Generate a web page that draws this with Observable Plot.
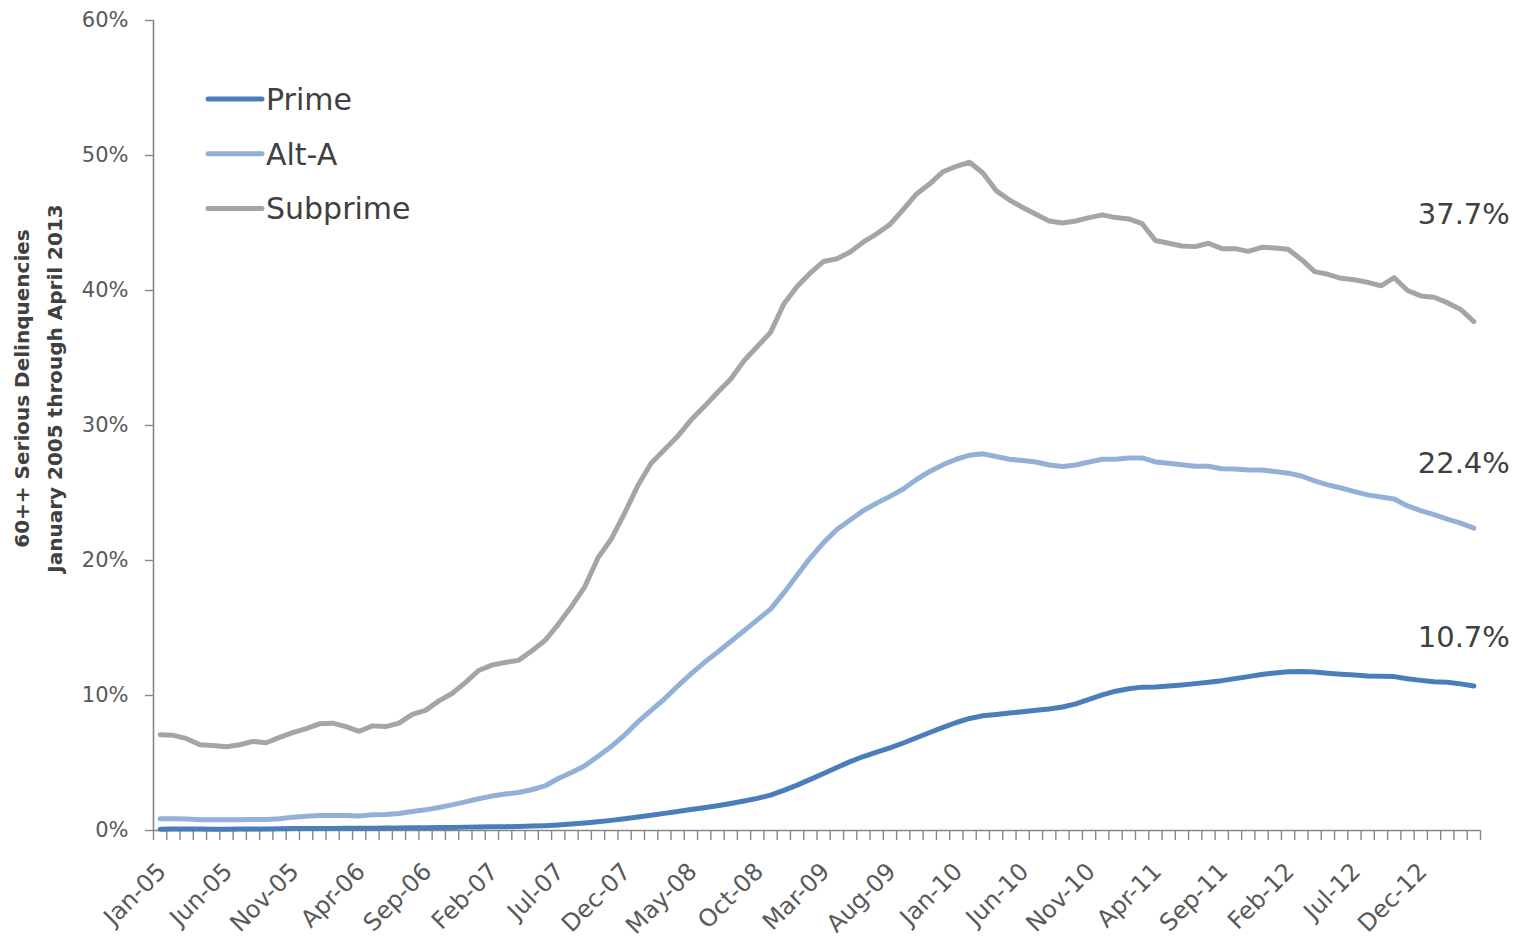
<!DOCTYPE html>
<html>
<head>
<meta charset="utf-8">
<script src="https://cdn.jsdelivr.net/npm/d3@7"></script>
<script src="https://cdn.jsdelivr.net/npm/@observablehq/plot@0.6"></script>
<style>
html, body { margin: 0; padding: 0; background: #ffffff; }
#chart { position: relative; width: 1518px; height: 938px; }
</style>
</head>
<body>
<div id="chart"></div>
<script>
// ---- Data (% of loans 60+ days delinquent) ----
const seriesNames = ["Prime", "Alt-A", "Subprime"];
const seriesColors = ["#4a7ebb", "#93b1d8", "#a5a5a5"];

// monthly, January 2005 .. April 2013 (100 months)
const prime = [
  0.10, 0.12, 0.12, 0.11, 0.10, 0.10, 0.11, 0.12, 0.12, 0.13,
  0.14, 0.14, 0.15, 0.15, 0.16, 0.16, 0.17, 0.18, 0.19, 0.20,
  0.21, 0.22, 0.23, 0.25, 0.26, 0.27, 0.28, 0.30, 0.33, 0.36,
  0.41, 0.48, 0.55, 0.64, 0.75, 0.87, 1.00, 1.13, 1.27, 1.41,
  1.55, 1.69, 1.84, 2.00, 2.18, 2.38, 2.62, 2.97, 3.36, 3.79,
  4.22, 4.67, 5.10, 5.48, 5.80, 6.12, 6.48, 6.87, 7.26, 7.64,
  8.00, 8.30, 8.50, 8.60, 8.70, 8.80, 8.90, 9.00, 9.15, 9.38,
  9.72, 10.05, 10.32, 10.50, 10.62, 10.63, 10.70, 10.78, 10.88, 10.98,
  11.10, 11.25, 11.40, 11.55, 11.67, 11.76, 11.78, 11.74, 11.65, 11.58,
  11.52, 11.45, 11.42, 11.40, 11.24, 11.12, 11.02, 10.98, 10.86, 10.70
];
const altA = [
  0.87, 0.87, 0.85, 0.80, 0.79, 0.79, 0.80, 0.82, 0.81, 0.87,
  0.99, 1.06, 1.11, 1.12, 1.11, 1.08, 1.16, 1.19, 1.26, 1.41,
  1.53, 1.70, 1.90, 2.12, 2.35, 2.55, 2.70, 2.82, 3.02, 3.30,
  3.85, 4.30, 4.80, 5.50, 6.23, 7.07, 8.04, 8.90, 9.74, 10.70,
  11.60, 12.44, 13.20, 14.00, 14.80, 15.60, 16.40, 17.60, 18.90, 20.20,
  21.33, 22.30, 23.00, 23.70, 24.25, 24.75, 25.30, 26.00, 26.60, 27.10,
  27.50, 27.80, 27.90, 27.70, 27.50, 27.40, 27.30, 27.07, 26.97, 27.07,
  27.30, 27.50, 27.50, 27.60, 27.60, 27.30, 27.20, 27.10, 26.98, 26.98,
  26.80, 26.77, 26.70, 26.70, 26.60, 26.47, 26.26, 25.90, 25.60, 25.37,
  25.10, 24.86, 24.70, 24.55, 24.04, 23.70, 23.40, 23.07, 22.77, 22.40
];
const subprime = [
  7.10, 7.05, 6.80, 6.35, 6.30, 6.20, 6.35, 6.60, 6.50, 6.90,
  7.25, 7.55, 7.90, 7.95, 7.70, 7.35, 7.75, 7.70, 7.95, 8.60,
  8.90, 9.60, 10.15, 10.95, 11.85, 12.25, 12.45, 12.60, 13.30, 14.07,
  15.27, 16.60, 18.05, 20.20, 21.60, 23.50, 25.55, 27.20, 28.20, 29.20,
  30.40, 31.40, 32.45, 33.45, 34.80, 35.85, 36.90, 39.00, 40.30, 41.30,
  42.15, 42.35, 42.85, 43.60, 44.20, 44.90, 46.00, 47.15, 47.90, 48.80,
  49.20, 49.50, 48.70, 47.40, 46.70, 46.15, 45.65, 45.15, 45.00, 45.15,
  45.40, 45.60, 45.40, 45.30, 44.95, 43.70, 43.50, 43.30, 43.25, 43.50,
  43.10, 43.10, 42.90, 43.20, 43.15, 43.05, 42.30, 41.40, 41.20, 40.90,
  40.80, 40.60, 40.35, 40.95, 40.00, 39.60, 39.50, 39.10, 38.60, 37.70
];

const tickLabels = [
  "Jan-05", "Jun-05", "Nov-05", "Apr-06", "Sep-06", "Feb-07", "Jul-07",
  "Dec-07", "May-08", "Oct-08", "Mar-09", "Aug-09", "Jan-10", "Jun-10",
  "Nov-10", "Apr-11", "Sep-11", "Feb-12", "Jul-12", "Dec-12"
];
const yTicks = [0, 10, 20, 30, 40, 50, 60];
const yTitle = "60++ Serious Delinquencies\nJanuary 2005 through April 2013";

// ---- Build table ----
const fmtMonth = d3.utcFormat("%b-%y");
const months = d3.range(prime.length).map(i => fmtMonth(new Date(Date.UTC(2005, i, 1))));
const seriesValues = [prime, altA, subprime];
const rows = seriesValues.flatMap((vals, s) =>
  vals.map((v, i) => ({series: seriesNames[s], i, month: months[i], value: v})));
const lastOf = s => rows.filter(d => d.series === s).at(-1);
const boundaries = d3.range(months.length + 1).map(i => i - 0.5);
const xDomain = [-0.5, months.length - 0.5];

const FONT = "DejaVu Sans, Open Sans, sans-serif";
const AXIS = "#868686";
const TXT = "#595959";
const DARK = "#404040";

const chart = Plot.plot({
  width: 1518,
  height: 938,
  marginLeft: 153,
  marginRight: 38,
  marginTop: 20,
  marginBottom: 108,
  style: {fontFamily: FONT, background: "#ffffff", overflow: "visible"},
  x: {domain: xDomain, axis: null, label: null},
  y: {domain: [0, 60], axis: null, label: null},
  color: {domain: seriesNames, range: seriesColors},
  marks: [
    // y axis
    Plot.axisY({ticks: yTicks, tickFormat: d => d + "%", tickSize: 8, tickPadding: 17,
      stroke: AXIS, strokeWidth: 1.4, fill: TXT, fontSize: 21, label: null}),
    Plot.ruleX([xDomain[0]], {stroke: AXIS, strokeWidth: 1.6}),
    // x axis with category-boundary ticks
    Plot.ruleY([0], {stroke: AXIS, strokeWidth: 1.6}),
    Plot.axisX({ticks: boundaries, tickFormat: () => "", tickSize: 10,
      stroke: AXIS, strokeWidth: 1.4, label: null}),
    Plot.text(tickLabels, {x: d => months.indexOf(d), text: d => d, frameAnchor: "bottom",
      textAnchor: "end", lineAnchor: "middle", rotate: -45, dx: 2, dy: 37,
      fontSize: 24, fill: TXT}),
    // y title
    Plot.text([yTitle], {text: d => d, frameAnchor: "left", rotate: -90,
      textAnchor: "middle", lineAnchor: "middle", lineHeight: 1.65,
      dx: -119, dy: -37, fontSize: 20, fontWeight: "bold", fill: DARK}),
    // series lines
    Plot.line(rows, {x: "i", y: "value", z: "series", stroke: "series",
      strokeWidth: 5, strokeLinejoin: "round", strokeLinecap: "round"}),
    // end labels
    Plot.text([lastOf("Subprime")], {x: "i", y: "value", text: d => d.value.toFixed(1) + "%",
      textAnchor: "end", lineAnchor: "middle", dx: 36, dy: -107, fontSize: 29, fill: DARK}),
    Plot.text([lastOf("Alt-A")], {x: "i", y: "value", text: d => d.value.toFixed(1) + "%",
      textAnchor: "end", lineAnchor: "middle", dx: 36, dy: -64, fontSize: 29, fill: DARK}),
    Plot.text([lastOf("Prime")], {x: "i", y: "value", text: d => d.value.toFixed(1) + "%",
      textAnchor: "end", lineAnchor: "middle", dx: 36, dy: -48, fontSize: 29, fill: DARK})
  ]
});

// legend drawn inside the plot area (top-left)
const svg = d3.select(chart);
const leg = svg.append("g").attr("class", "legend")
  .attr("font-family", FONT).attr("text-anchor", "start");
seriesNames.forEach((name, k) => {
  const y = 99 + k * 54.7;
  leg.append("line").attr("x1", 208).attr("x2", 262).attr("y1", y).attr("y2", y)
    .attr("stroke", seriesColors[k]).attr("stroke-width", 5).attr("stroke-linecap", "round");
  leg.append("text").attr("x", 266).attr("y", y).attr("dy", "0.36em")
    .attr("font-size", 30).attr("fill", DARK).text(name);
});

document.getElementById("chart").appendChild(chart);
</script>
</body>
</html>
